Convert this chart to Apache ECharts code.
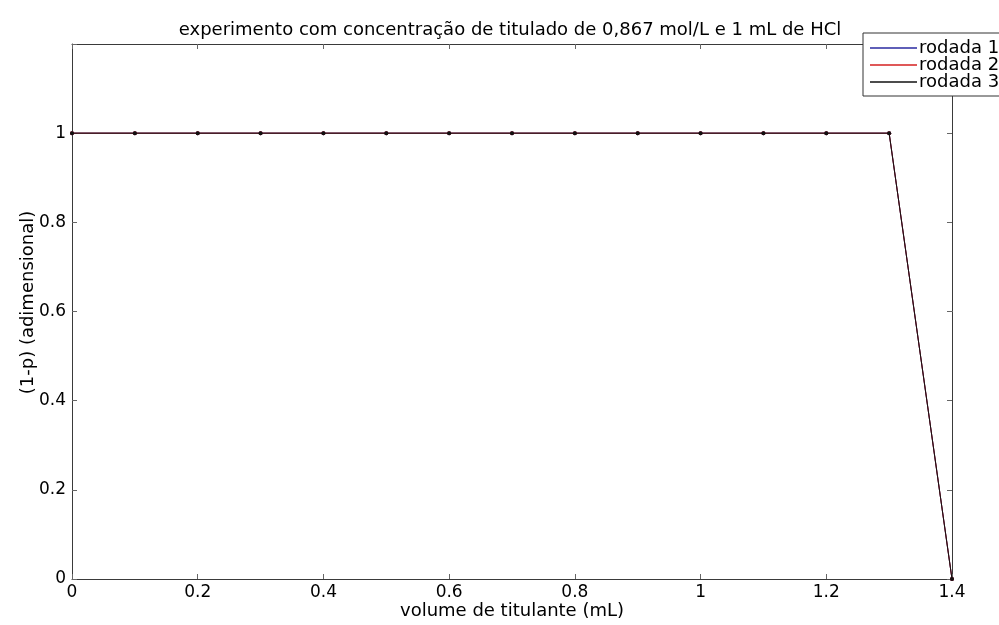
<!DOCTYPE html>
<html>
<head>
<meta charset="utf-8">
<script src="https://cdn.jsdelivr.net/npm/echarts@6/dist/echarts.min.js"></script>
<style>
html,body{margin:0;padding:0;background:#fff;}
#chart{width:999px;height:625px;}
</style>
</head>
<body>
<div id="chart"></div>
<script>
// Titration runs: volume of titrant (mL) vs (1-p)
const volume = [0, 0.1, 0.2, 0.3, 0.4, 0.5, 0.6, 0.7, 0.8, 0.9, 1.0, 1.1, 1.2, 1.3, 1.4];
const rodada1 = [1, 1, 1, 1, 1, 1, 1, 1, 1, 1, 1, 1, 1, 1, 0];
const rodada2 = [1, 1, 1, 1, 1, 1, 1, 1, 1, 1, 1, 1, 1, 1, 0];
const rodada3 = [1, 1, 1, 1, 1, 1, 1, 1, 1, 1, 1, 1, 1, 1, 0];
const seriesNames = ['rodada 1', 'rodada 2', 'rodada 3'];
const seriesColors = ['#2a2aa0', '#d42020', '#111111'];

const font = 'DejaVu Sans, Liberation Sans, sans-serif';
const pairs = ys => volume.map((v, i) => [v, ys[i]]);
const fmt = v => String(Math.round(v * 10) / 10);

const chart = echarts.init(document.getElementById('chart'));
const axisLine = { show: true, onZero: false, lineStyle: { color: '#3a3a3a', width: 1 } };
const tickIn = { show: true, inside: true, length: 5, lineStyle: { color: '#666' } };

chart.setOption({
  animation: false,
  backgroundColor: '#fff',
  title: {
    text: 'experimento com concentração de titulado de 0,867 mol/L e 1 mL de HCl',
    left: 505, top: 16, textAlign: 'center',
    textStyle: { fontFamily: font, fontSize: 18, fontWeight: 'normal', color: '#000' }
  },
  grid: { left: 72, right: 47, top: 44, bottom: 46, outerBoundsMode: 'none', containLabel: false },
  legend: {
    orient: 'vertical',
    left: 863, top: 33,
    data: seriesNames.map((n, i) => ({ name: n, icon: 'rect', itemStyle: { color: seriesColors[i] } })),
    itemWidth: 47, itemHeight: 1.5, itemGap: -1,
    padding: [6, 30, 5, 7],
    backgroundColor: '#fff',
    borderColor: '#333', borderWidth: 1,
    textStyle: { fontFamily: font, fontSize: 18, color: '#000', padding: [0, 0, 0, -3] }
  },
  xAxis: [{
    type: 'value', min: 0, max: 1.4, interval: 0.2,
    name: 'volume de titulante (mL)', nameLocation: 'middle', nameGap: 23, nameMoveOverlap: false,
    nameTextStyle: { fontFamily: font, fontSize: 18, color: '#000' },
    axisLine: axisLine, axisTick: tickIn, splitLine: { show: false },
    axisLabel: { fontFamily: font, fontSize: 17, color: '#000', margin: 5, formatter: fmt }
  }, {
    type: 'value', min: 0, max: 1.4, interval: 0.2, position: 'top',
    axisLine: axisLine, axisTick: tickIn, axisLabel: { show: false }, splitLine: { show: false }
  }],
  yAxis: [{
    type: 'value', min: 0, max: 1.2, interval: 0.2,
    name: '(1-p) (adimensional)', nameLocation: 'middle', nameGap: 35, nameMoveOverlap: false,
    nameTextStyle: { fontFamily: font, fontSize: 18, color: '#000', padding: [0, 0, 0, 18] },
    axisLine: axisLine, axisTick: tickIn, splitLine: { show: false },
    axisLabel: { fontFamily: font, fontSize: 17, color: '#000', margin: 6,
      formatter: v => (v > 1.05 ? '' : fmt(v)) }
  }, {
    type: 'value', min: 0, max: 1.2, interval: 0.2, position: 'right',
    axisLine: axisLine, axisTick: tickIn, axisLabel: { show: false }, splitLine: { show: false }
  }],
  series: [rodada1, rodada2, rodada3].map((ys, i) => ({
    name: seriesNames[i],
    type: 'line',
    data: pairs(ys),
    xAxisIndex: 0, yAxisIndex: 0,
    symbol: 'circle', symbolSize: 4,
    itemStyle: { color: seriesColors[i] },
    lineStyle: { color: seriesColors[i], width: 1 },
    clip: false,
    z: 2 + i
  }))
});
</script>
</body>
</html>
